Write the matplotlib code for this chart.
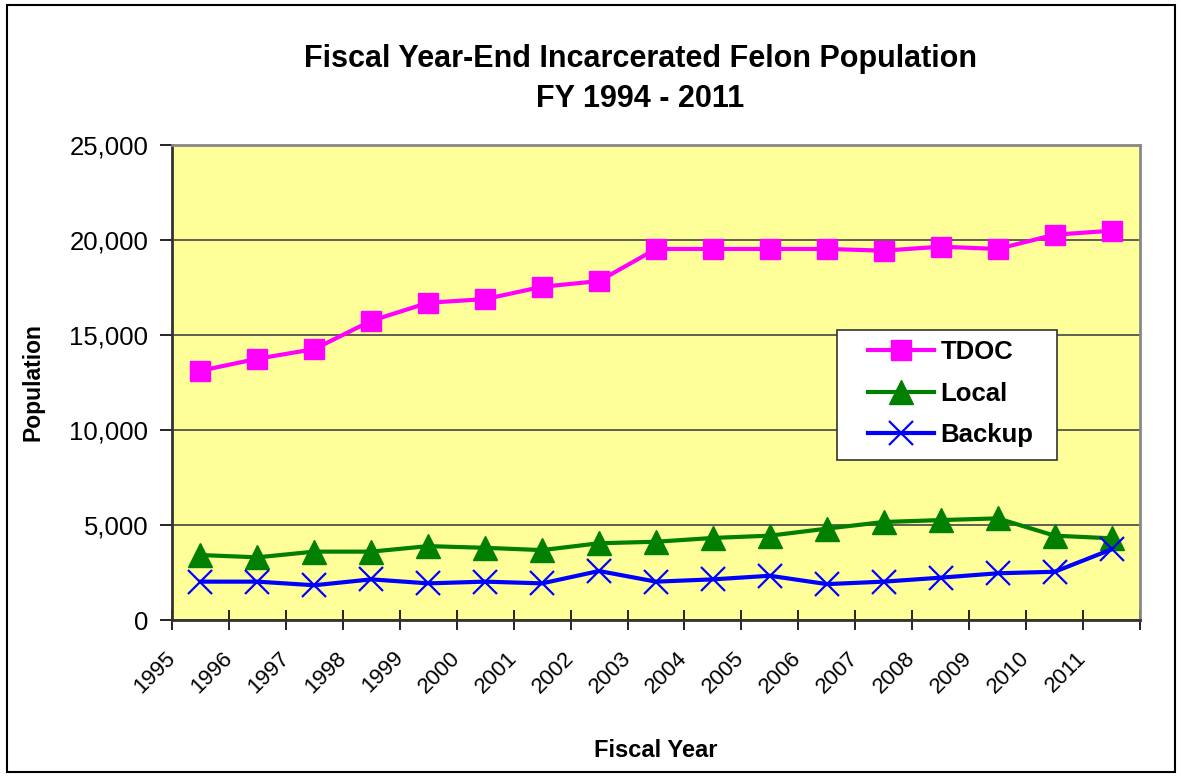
import matplotlib
matplotlib.use('Agg')
import matplotlib.pyplot as plt
from matplotlib.patches import Rectangle
from matplotlib.ticker import FuncFormatter
import numpy as np

plt.rcParams['font.family'] = ['Liberation Sans', 'DejaVu Sans']

# 연도 (회계연도)
years = ['1995', '1996', '1997', '1998', '1999', '2000', '2001', '2002', '2003',
         '2004', '2005', '2006', '2007', '2008', '2009', '2010', '2011']
# 시리즈 값
tdoc = [13120, 13750, 14260, 15750, 16700, 16890, 17540, 17840, 19530,
        19530, 19530, 19530, 19440, 19650, 19530, 20280, 20490]
local = [3420, 3300, 3600, 3600, 3890, 3800, 3680, 4040, 4120,
         4320, 4440, 4810, 5160, 5260, 5350, 4440, 4300]
backup = [2020, 2020, 1830, 2140, 1930, 2020, 1930, 2580, 2020,
          2140, 2330, 1890, 2020, 2230, 2460, 2540, 3720]

fig = plt.figure(figsize=(11.81, 7.76), dpi=100)
ax = fig.add_axes([0.1456, 0.201, 0.8197, 0.6121])

# 점은 눈금 사이(카테고리 중앙)에 위치
x = np.arange(len(years)) + 0.5
ax.plot(x, tdoc, color='#FF00FF', lw=3, marker='s', ms=15, mec='#FF00FF', label='TDOC', zorder=4)
ax.plot(x, local, color='#007F00', lw=3, marker='^', ms=17, mec='#007F00', label='Local', zorder=4)
ax.plot(x, backup, color='#0000FF', lw=3, marker='x', ms=17, mew=1.6, label='Backup', zorder=4)

ax.set_facecolor('#FFFF99')
ax.set_xlim(0, len(years))
ax.set_ylim(0, 25000)
ax.set_yticks(np.arange(0, 25001, 5000))
ax.yaxis.set_major_formatter(FuncFormatter(lambda v, p: f'{int(v):,}'))
ax.grid(axis='y', color='#444444', lw=1.2)
ax.set_axisbelow(True)

ax.set_xticks(np.arange(len(years) + 1))
ax.set_xticklabels(years + [''], rotation=45, ha='right', va='center', rotation_mode='anchor', fontsize=16)
ax.tick_params(axis='x', direction='inout', length=14, width=1.2, pad=18)
ax.tick_params(axis='y', direction='out', length=9, width=1.2, labelsize=18.5, pad=8)

for s in ['left', 'bottom']:
    ax.spines[s].set_color('#333333')
    ax.spines[s].set_linewidth(2)
for s in ['top', 'right']:
    ax.spines[s].set_color('#888888')
    ax.spines[s].set_linewidth(2)

ax.set_xlabel('Fiscal Year', fontsize=17, fontweight='bold', labelpad=30)
ax.set_ylabel('Population', fontsize=16.5, fontweight='bold', labelpad=18)

fig.text(0.542, 0.924, 'Fiscal Year-End Incarcerated Felon Population', ha='center', va='center',
         fontsize=22, fontweight='bold')
fig.text(0.542, 0.873, 'FY 1994 - 2011', ha='center', va='center', fontsize=22, fontweight='bold')

# 범례: 테두리는 따로 그림
ax.add_patch(Rectangle((0.687, 0.337), 0.227, 0.2735, transform=ax.transAxes,
                       facecolor='white', edgecolor='#333333', lw=1.2, zorder=5))
leg = ax.legend(loc='upper left', bbox_to_anchor=(0.719, 0.589), prop={'weight': 'bold', 'size': 18.5},
                frameon=False, borderpad=0, labelspacing=0.68, handlelength=2.55,
                handletextpad=0.28, borderaxespad=0)
leg.set_zorder(6)

# 바깥 테두리
fig.patches.append(Rectangle((0.006, 0.005), 0.989, 0.989, transform=fig.transFigure,
                             fill=False, edgecolor='black', lw=1.5))

plt.savefig('out.png', dpi=100)
